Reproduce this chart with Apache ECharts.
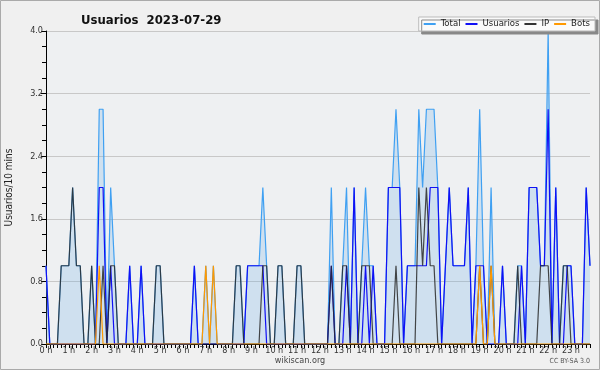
<!DOCTYPE html>
<html><head><meta charset="utf-8">
<script src="https://cdn.jsdelivr.net/npm/echarts@6/dist/echarts.min.js"></script>
<style>html,body{margin:0;padding:0;background:#f0f0f0}#c{width:600px;height:370px}</style>
</head><body><div id="c"></div>
<script>
// 10-minute slots, 6 per hour (one row per hour)
var hourLabels = ['0 h','1 h','2 h','3 h','4 h','5 h','6 h','7 h','8 h','9 h','10 h','11 h','12 h','13 h','14 h','15 h','16 h','17 h','18 h','19 h','20 h','21 h','22 h','23 h'];
var total = [
 1,0,0,0,1,1, 1,2,1,1,0,0, 1,0,3,3,0,2, 1,0,0,0,1,0,
 0,1,0,0,0,1, 1,0,0,0,0,0, 0,0,0,1,0,0, 1,0,1,0,0,0,
 0,0,1,1,0,1, 1,1,1,2,1,0, 0,1,1,0,0,0, 1,1,0,0,0,0,
 0,0,0,2,0,0, 1,2,0,2,0,1, 2,1,1,0,0,0, 2,2,3,2,0,1,
 1,1,3,2,3,3, 3,2,0,1,2,1, 1,1,1,2,0,1, 3,1,0,2,0,0,
 1,0,0,0,1,1, 0,2,2,2,1,1, 4,0,2,0,1,1, 1,0,0,0,2,1
];
var usuarios = [
 1,0,0,0,0,0, 0,0,0,0,0,0, 0,0,2,2,0,1, 0,0,0,0,1,0,
 0,1,0,0,0,0, 0,0,0,0,0,0, 0,0,0,1,0,0, 0,0,0,0,0,0,
 0,0,0,0,0,1, 1,1,1,1,0,0, 0,0,0,0,0,0, 0,0,0,0,0,0,
 0,0,0,1,0,0, 0,1,0,2,0,0, 1,0,1,0,0,0, 2,2,2,2,0,1,
 1,1,1,1,1,2, 2,2,0,1,2,1, 1,1,1,2,0,1, 1,1,0,0,0,0,
 1,0,0,0,0,1, 0,2,2,2,1,1, 3,0,2,0,0,1, 1,0,0,0,2,1
];
var ip = [
 0,0,0,0,1,1, 1,2,1,1,0,0, 1,0,0,1,0,1, 1,0,0,0,0,0,
 0,0,0,0,0,1, 1,0,0,0,0,0, 0,0,0,0,0,0, 0,0,0,0,0,0,
 0,0,1,1,0,0, 0,0,0,1,1,0, 0,1,1,0,0,0, 1,1,0,0,0,0,
 0,0,0,1,0,0, 1,1,0,0,0,1, 1,1,0,0,0,0, 0,0,1,0,0,0,
 0,0,2,1,2,1, 1,0,0,0,0,0, 0,0,0,0,0,0, 1,0,0,1,0,0,
 0,0,0,0,1,0, 0,0,0,0,1,1, 1,0,0,0,1,1, 0,0,0,0,0,0
];
var bots = [
 0,0,0,0,0,0, 0,0,0,0,0,0, 0,0,1,0,0,0, 0,0,0,0,0,0,
 0,0,0,0,0,0, 0,0,0,0,0,0, 0,0,0,0,0,0, 1,0,1,0,0,0,
 0,0,0,0,0,0, 0,0,0,0,0,0, 0,0,0,0,0,0, 0,0,0,0,0,0,
 0,0,0,0,0,0, 0,0,0,0,0,0, 0,0,0,0,0,0, 0,0,0,0,0,0,
 0,0,0,0,0,0, 0,0,0,0,0,0, 0,0,0,0,0,0, 1,0,0,1,0,0,
 0,0,0,0,0,0, 0,0,0,0,0,0, 0,0,0,0,0,0, 0,0,0,0,0,0
];
var yTicks = [0, 0.8, 1.6, 2.4, 3.2, 4.0];

var slots = [];
for (var h = 0; h < hourLabels.length; h++) for (var m = 0; m < 6; m++) slots.push(m === 0 ? hourLabels[h] : '');

var FONT = '"DejaVu Sans Condensed","DejaVu Sans",sans-serif';
var chart = echarts.init(document.getElementById('c'), null, {renderer: 'canvas'});
var lineBase = {type: 'line', showSymbol: false, symbol: 'none', animation: false, lineStyle: {width: 1.2}, z: 2};
chart.setOption({
  backgroundColor: '#f0f0f0',
  animation: false,
  textStyle: {fontFamily: FONT},
  title: {text: 'Usuarios  2023-07-29', left: 76, top: 9,
    textStyle: {fontFamily: FONT, fontSize: 13, fontWeight: 'bold', color: '#111'}},
  legend: {right: 5, top: 17, itemGap: 5, itemWidth: 12, itemHeight: 2, icon: 'rect',
    padding: [2, 5, 2, 5], backgroundColor: '#fafafa', borderColor: '#bbb', borderWidth: 1,
    shadowColor: '#888', shadowOffsetX: 3, shadowOffsetY: 3, shadowBlur: 0,
    textStyle: {fontFamily: FONT, fontSize: 9.5, color: '#222'},
    data: ['Total', 'Usuarios', 'IP', 'Bots']},
  grid: {left: 46, right: 10, top: 31, bottom: 26, show: true, backgroundColor: '#eef0f2', borderWidth: 0,
    containLabel: false, outerBoundsMode: 'none'},
  xAxis: {type: 'category', data: slots, boundaryGap: false,
    axisLine: {lineStyle: {color: '#000', width: 1}},
    axisTick: {interval: 0, length: 4, lineStyle: {color: '#000'}},
    axisLabel: {interval: 5, fontSize: 9, color: '#333', margin: 2, fontFamily: FONT},
    splitLine: {show: false}},
  yAxis: {type: 'value', min: 0, max: 4, interval: 0.8,
    name: 'Usuarios/10 mins', nameLocation: 'middle', nameGap: 32, nameRotate: 90,
    nameTextStyle: {fontFamily: FONT, fontSize: 10, color: '#222'},
    axisLine: {show: true, lineStyle: {color: '#000', width: 1}},
    axisTick: {show: true, length: 5, lineStyle: {color: '#000'}},
    minorTick: {show: true, splitNumber: 4, length: 4, lineStyle: {color: '#000'}},
    axisLabel: {fontSize: 9, color: '#333', margin: 3, fontFamily: FONT,
      formatter: function (v) { return yTicks.indexOf(Math.round(v * 10) / 10) >= 0 ? (Math.round(v * 10) / 10).toFixed(1) : ''; }},
    splitLine: {show: true, lineStyle: {color: '#c8c8c8', width: 1}}},
  series: [
    Object.assign({}, lineBase, {name: 'Total', data: total, color: '#3fa0f2',
      lineStyle: {width: 1.2, color: '#3fa0f2'}, areaStyle: {color: 'rgba(100,170,230,0.32)'}, z: 1}),
    Object.assign({}, lineBase, {name: 'Usuarios', data: usuarios, color: '#1010f5',
      lineStyle: {width: 1.2, color: '#1010f5'}}),
    Object.assign({}, lineBase, {name: 'IP', data: ip, color: '#333333',
      lineStyle: {width: 1.2, color: 'rgba(40,40,40,0.85)'}}),
    Object.assign({}, lineBase, {name: 'Bots', data: bots, color: '#ff9900',
      lineStyle: {width: 1.2, color: '#ff9900'}})
  ],
  graphic: [
    {type: 'rect', shape: {x: 0.5, y: 0.5, width: 599, height: 369}, style: {fill: 'none', stroke: '#aaa', lineWidth: 1}, silent: true},
    {type: 'text', left: 'center', top: 356, style: {text: 'wikiscan.org', font: '9px ' + FONT, fill: '#444'}},
    {type: 'text', right: 10, top: 358, style: {text: 'CC BY-SA 3.0', font: '7px ' + FONT, fill: '#555'}}
  ]
});
</script></body></html>
